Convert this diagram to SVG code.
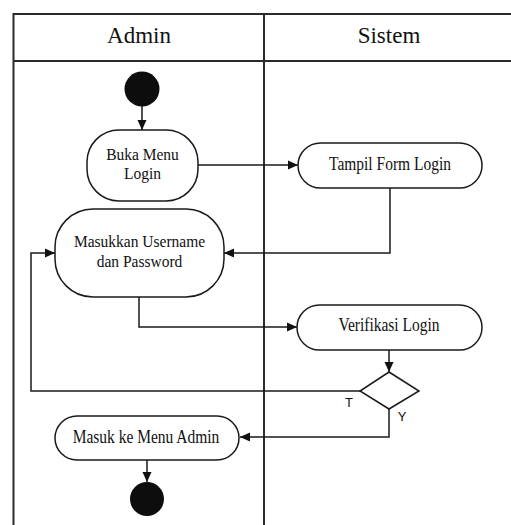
<svg xmlns="http://www.w3.org/2000/svg" width="511" height="525" viewBox="0 0 511 525">
<style>
.frame{fill:none;stroke:#2a2a2a;stroke-width:2}
.node{fill:#fff;stroke:#1a1a1a;stroke-width:1.5}
.t{font-family:"Liberation Serif","Times New Roman",serif;font-size:15.5px;fill:#111;text-anchor:middle}
.h{font-family:"Liberation Serif","Times New Roman",serif;font-size:23px;fill:#111;text-anchor:middle}
.g{font-family:"Liberation Sans",Arial,sans-serif;font-size:13px;fill:#111;text-anchor:middle}
.c{fill:none;stroke:#1a1a1a;stroke-width:1.5}
.dot{fill:#0d0d0d}
</style>
<defs>
<marker id="ah" markerUnits="userSpaceOnUse" markerWidth="10" markerHeight="10" viewBox="0 0 10 10" refX="10" refY="5" orient="auto">
<path d="M0,0.5 L10,5 L0,9.5 Z" fill="#111"/>
</marker>
</defs>
<rect width="511" height="525" fill="#fff"/>
<g id="swimlanes">
<path class="frame" d="M13.5,525 V14 H511 M13.5,61 H511 M264,14 V525"/>
<text class="h" x="139" y="43">Admin</text>
<text class="h" x="389" y="43">Sistem</text>
</g>
<g id="connectors">
<path class="c" d="M142,106 V130" marker-end="url(#ah)"/>
<path class="c" d="M198,165 H298" marker-end="url(#ah)"/>
<path class="c" d="M390,188 V253 H224" marker-end="url(#ah)"/>
<path class="c" d="M139,297 V327 H297" marker-end="url(#ah)"/>
<path class="c" d="M389,350 V372" marker-end="url(#ah)"/>
<path class="c" d="M360,391 H31 V253 H55" marker-end="url(#ah)"/>
<path class="c" d="M389,409 V437 H240" marker-end="url(#ah)"/>
<path class="c" d="M147,460 V482" marker-end="url(#ah)"/>
</g>
<g id="start"><circle class="dot" cx="142" cy="89" r="17.5"/></g>
<g id="buka-menu-login">
<rect class="node" x="87" y="130" width="111" height="71" rx="32"/>
<text class="t" transform="translate(142.5,160) scale(1,1.1)">Buka Menu</text>
<text class="t" transform="translate(142.5,179) scale(1,1.1)">Login</text>
</g>
<g id="tampil-form-login">
<rect class="node" x="298" y="143" width="184" height="45" rx="22.5"/>
<text class="t" transform="translate(390,170) scale(1,1.2)">Tampil Form Login</text>
</g>
<g id="masukkan-username">
<rect class="node" x="55" y="209" width="169" height="88" rx="38"/>
<text class="t" transform="translate(139.5,247) scale(1,1.1)">Masukkan Username</text>
<text class="t" transform="translate(139.5,267) scale(1,1.1)">dan Password</text>
</g>
<g id="verifikasi-login">
<rect class="node" x="297" y="305" width="185" height="45" rx="22.5"/>
<text class="t" transform="translate(389,331) scale(1,1.2)">Verifikasi Login</text>
</g>
<g id="decision">
<path class="node" d="M389,372 L419,391 L389,409 L360,391 Z"/>
<text class="g" x="349" y="407">T</text>
<text class="g" x="402" y="421">Y</text>
</g>
<g id="masuk-menu-admin">
<rect class="node" x="55" y="416" width="184" height="44" rx="22"/>
<text class="t" transform="translate(146,443) scale(1,1.2)">Masuk ke Menu Admin</text>
</g>
<g id="end"><circle class="dot" cx="147" cy="499" r="17"/></g>
</svg>
